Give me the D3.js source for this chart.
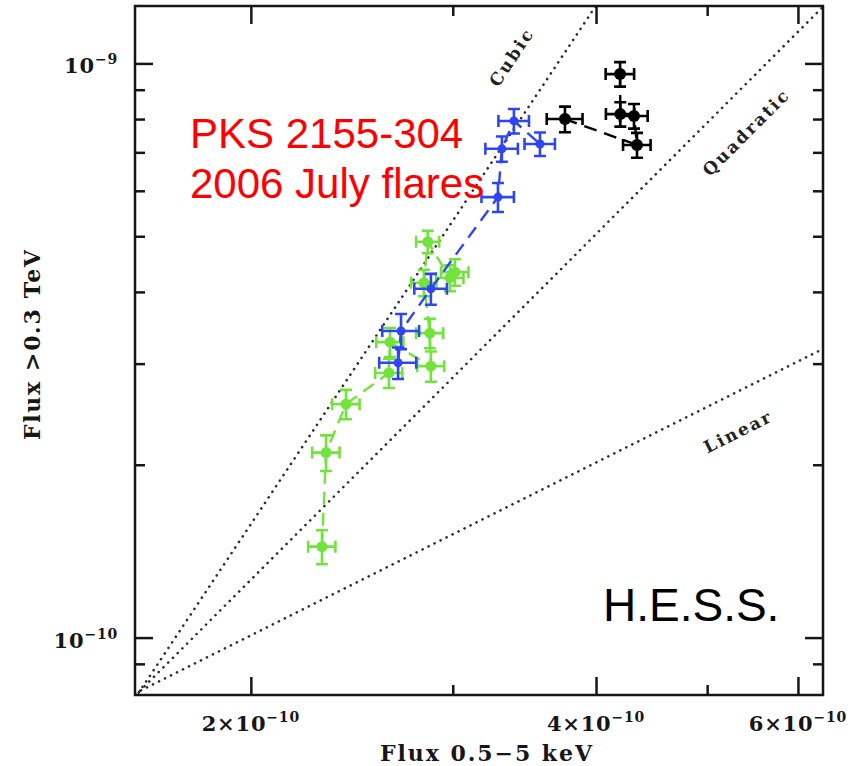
<!DOCTYPE html>
<html>
<head>
<meta charset="utf-8">
<script src="https://cdn.jsdelivr.net/npm/d3@7"></script>
<style>
  body { margin: 0; background: #fff; }
  svg { display: block; }
</style>
</head>
<body>
<svg id="chart" width="866" height="766"></svg>
<script>
// PKS 2155-304, 2006 July flares: VHE flux (>0.3 TeV) against X-ray flux (0.5-5 keV)

// Night 1 (green)
const greenX    = [2.307e-10, 2.326e-10, 2.421e-10, 2.639e-10, 2.645e-10, 2.871e-10, 2.865e-10, 2.831e-10, 2.853e-10, 2.983e-10, 3.013e-10];
const greenY    = [1.44e-10, 2.10e-10, 2.55e-10, 2.89e-10, 3.27e-10, 2.97e-10, 3.39e-10, 4.15e-10, 4.89e-10, 4.23e-10, 4.33e-10];
const greenXErr = [0.063e-10, 0.064e-10, 0.067e-10, 0.072e-10, 0.072e-10, 0.078e-10, 0.078e-10, 0.072e-10, 0.066e-10, 0.082e-10, 0.083e-10];
const greenYErr = [0.098e-10, 0.15e-10, 0.15e-10, 0.17e-10, 0.19e-10, 0.18e-10, 0.20e-10, 0.22e-10, 0.22e-10, 0.22e-10, 0.23e-10];

// Night 2 (blue)
const blueX    = [2.688e-10, 2.704e-10, 2.871e-10, 3.285e-10, 3.311e-10, 3.392e-10, 3.574e-10];
const blueY    = [3.01e-10, 3.42e-10, 4.05e-10, 5.85e-10, 7.10e-10, 7.94e-10, 7.24e-10];
const blueXErr = [0.10e-10, 0.10e-10, 0.094e-10, 0.107e-10, 0.108e-10, 0.104e-10, 0.109e-10];
const blueYErr = [0.19e-10, 0.24e-10, 0.25e-10, 0.34e-10, 0.36e-10, 0.39e-10, 0.34e-10];

// Night 3 (black)
const blackX    = [4.198e-10, 4.20e-10, 4.317e-10, 4.343e-10, 3.758e-10];
const blackY    = [9.58e-10, 8.16e-10, 8.10e-10, 7.21e-10, 8.00e-10];
const blackXErr = [0.12e-10, 0.12e-10, 0.12e-10, 0.12e-10, 0.135e-10];
const blackYErr = [0.47e-10, 0.40e-10, 0.40e-10, 0.36e-10, 0.41e-10];

// Power-law reference lines F_VHE ∝ F_X^n through a common pivot
const refNames  = ["Linear", "Quadratic", "Cubic"];
const refIndex  = [1, 2, 3];
const refPivotX = 1.60e-10;
const refPivotY = 8.07e-11;

// Axis ticks
const xMajorTicks = [2e-10, 4e-10, 6e-10];
const xMinorTicks = [3e-10, 5e-10];
const xTickMantissa = ["2×10", "4×10", "6×10"];
const xTickExponent = ["−10", "−10", "−10"];
const yMajorTicks = [1e-10, 1e-9];
const yMinorTicks = [9e-11, 2e-10, 3e-10, 4e-10, 5e-10, 6e-10, 7e-10, 8e-10, 9e-10];
const yTickMantissa = ["10", "10"];
const yTickExponent = ["−10", "−9"];

const svg = d3.select("#chart");
const W = 866, H = 766;
svg.append("rect").attr("width", W).attr("height", H).attr("fill", "#fff");

const plot = { left: 135, right: 823, top: 6, bottom: 695 };

const x = d3.scaleLog().domain([10 ** -9.8, 10 ** -9.2]).range([plot.left, plot.right]);
const y = d3.scaleLog().domain([10 ** -10.1, 10 ** -8.9]).range([plot.bottom, plot.top]);

const serif = "'DejaVu Serif', 'Liberation Serif', serif";
const sans = "'Liberation Sans', Arial, sans-serif";
const ink = "#161616";

svg.append("clipPath").attr("id", "plotClip")
  .append("rect")
  .attr("x", plot.left).attr("y", plot.top)
  .attr("width", plot.right - plot.left).attr("height", plot.bottom - plot.top);

// Reference power-law lines (dotted)
const refLayer = svg.append("g").attr("clip-path", "url(#plotClip)");
refIndex.forEach((n) => {
  const xs = d3.range(0, 81).map(i => 10 ** (-9.8 + i * 0.01));
  const pts = xs.map(v => [x(v), y(refPivotY * Math.pow(v / refPivotX, n))]);
  refLayer.append("path")
    .attr("d", d3.line()(pts))
    .attr("fill", "none")
    .attr("stroke", "#2e2e2e")
    .attr("stroke-width", 2.6)
    .attr("stroke-linecap", "round")
    .attr("stroke-dasharray", "0.1,6.6");
});

// Reference line labels, rotated along each line
const refLabelX = [5.31e-10, 5.40e-10, 3.372e-10];
const refLabelY = [2.28e-10, 7.56e-10, 1.022e-9];
const refLabelLen = [72, 113, 64];
refIndex.forEach((n, i) => {
  const dx = x(10 ** -9.3) - x(10 ** -9.4);
  const dy = y(10 ** (-9.0)) - y(10 ** (-9.0 + 0.1 * n));
  const ang = -Math.atan2(dy, dx) * 180 / Math.PI;
  svg.append("text")
    .attr("transform", `translate(${x(refLabelX[i])},${y(refLabelY[i])}) rotate(${ang})`)
    .attr("text-anchor", "middle")
    .attr("dy", "0.35em")
    .attr("font-family", serif)
    .attr("font-weight", "bold")
    .attr("font-size", 17)
    .attr("fill", "#222")
    .attr("textLength", refLabelLen[i])
    .attr("lengthAdjust", "spacing")
    .text(refNames[i]);
});

// Dashed connectors and error-bar points for each night
function drawSeries(xs, ys, xe, ye, color, r) {
  const g = svg.append("g");
  const pts = xs.map((v, i) => [x(v), y(ys[i])]);
  g.append("path")
    .attr("d", d3.line()(pts))
    .attr("fill", "none")
    .attr("stroke", color)
    .attr("stroke-width", 2.4)
    .attr("stroke-dasharray", "13,8");
  const cap = 6;
  xs.forEach((v, i) => {
    const cx = x(v), cy = y(ys[i]);
    const x0 = x(v - xe[i]), x1 = x(v + xe[i]);
    const y0 = y(ys[i] - ye[i]), y1 = y(ys[i] + ye[i]);
    const p = d3.path();
    p.moveTo(x0, cy); p.lineTo(x1, cy);
    p.moveTo(cx, y0); p.lineTo(cx, y1);
    p.moveTo(x0, cy - cap); p.lineTo(x0, cy + cap);
    p.moveTo(x1, cy - cap); p.lineTo(x1, cy + cap);
    p.moveTo(cx - cap, y0); p.lineTo(cx + cap, y0);
    p.moveTo(cx - cap, y1); p.lineTo(cx + cap, y1);
    g.append("path").attr("d", p.toString())
      .attr("fill", "none").attr("stroke", color).attr("stroke-width", 2.6);
    g.append("circle").attr("cx", cx).attr("cy", cy).attr("r", r).attr("fill", color);
  });
}
drawSeries(greenX, greenY, greenXErr, greenYErr, "#72e33c", 5.5);
drawSeries(blueX, blueY, blueXErr, blueYErr, "#2f45f2", 4.5);
drawSeries(blackX, blackY, blackXErr, blackYErr, "#000", 6);

// Frame
svg.append("rect")
  .attr("x", plot.left).attr("y", plot.top)
  .attr("width", plot.right - plot.left).attr("height", plot.bottom - plot.top)
  .attr("fill", "none").attr("stroke", ink).attr("stroke-width", 2.5);

// Inward ticks on all four sides
function ticks(axisGen, values, size, transform) {
  const g = svg.append("g").attr("transform", transform)
    .call(axisGen.tickValues(values).tickSizeInner(-size).tickSizeOuter(0).tickFormat(() => ""));
  g.select(".domain").remove();
  g.selectAll(".tick line").attr("stroke", ink).attr("stroke-width", 2.5);
  return g;
}
ticks(d3.axisBottom(x), xMajorTicks, 18, `translate(0,${plot.bottom})`);
ticks(d3.axisBottom(x), xMinorTicks, 10, `translate(0,${plot.bottom})`);
ticks(d3.axisTop(x), xMajorTicks, 18, `translate(0,${plot.top})`);
ticks(d3.axisTop(x), xMinorTicks, 10, `translate(0,${plot.top})`);
ticks(d3.axisLeft(y), yMajorTicks, 18, `translate(${plot.left},0)`);
ticks(d3.axisLeft(y), yMinorTicks, 10, `translate(${plot.left},0)`);
ticks(d3.axisRight(y), yMajorTicks, 18, `translate(${plot.right},0)`);
ticks(d3.axisRight(y), yMinorTicks, 10, `translate(${plot.right},0)`);

// Tick labels with superscript exponents
function tickLabel(px, py, anchor, mant, expo) {
  const t = svg.append("text")
    .attr("x", px).attr("y", py)
    .attr("text-anchor", anchor)
    .attr("font-family", serif)
    .attr("font-weight", "bold")
    .attr("font-size", 21)
    .attr("letter-spacing", 0.8)
    .attr("fill", ink);
  t.append("tspan").text(mant);
  t.append("tspan").attr("font-size", 14).attr("dy", -9).text(expo);
}
xMajorTicks.forEach((v, i) => tickLabel(x(v), plot.bottom + 36, "middle", xTickMantissa[i], xTickExponent[i]));
yMajorTicks.forEach((v, i) => tickLabel(plot.left - 17, y(v) + 10, "end", yTickMantissa[i], yTickExponent[i]));

// Axis titles
svg.append("text")
  .attr("x", (plot.left + plot.right) / 2 + 7).attr("y", 761)
  .attr("text-anchor", "middle")
  .attr("font-family", serif).attr("font-weight", "bold").attr("font-size", 22)
  .attr("fill", ink)
  .attr("textLength", 212).attr("lengthAdjust", "spacing")
  .text("Flux 0.5−5 keV");
svg.append("text")
  .attr("transform", `translate(40,345) rotate(-90)`)
  .attr("text-anchor", "middle")
  .attr("font-family", serif).attr("font-weight", "bold").attr("font-size", 22)
  .attr("fill", ink)
  .attr("textLength", 190).attr("lengthAdjust", "spacing")
  .text("Flux >0.3 TeV");

// Annotations
const title = svg.append("text")
  .attr("font-family", sans).attr("font-size", 42).attr("fill", "#ff0000");
title.append("tspan").attr("x", 190).attr("y", 148).text("PKS 2155-304");
title.append("tspan").attr("x", 190).attr("y", 198).text("2006 July flares");

svg.append("text")
  .attr("x", 603).attr("y", 621)
  .attr("font-family", sans).attr("font-size", 46).attr("fill", "#000")
  .text("H.E.S.S.");
</script>
</body>
</html>
